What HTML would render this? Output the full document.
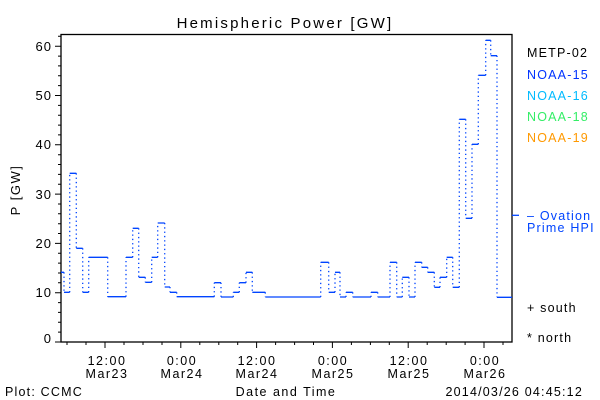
<!DOCTYPE html>
<html><head><meta charset="utf-8"><style>
html,body{margin:0;padding:0;background:#fff;}
svg{display:block;font-family:"Liberation Sans",sans-serif;}
</style></head><body>
<svg width="600" height="400" viewBox="0 0 600 400" xmlns="http://www.w3.org/2000/svg">
<rect width="600" height="400" fill="#fff"/>
<text x="285" y="28" font-size="15" text-anchor="middle" fill="#000" letter-spacing="2.2">Hemispheric Power [GW]</text>
<rect x="61" y="34.5" width="451" height="307.5" fill="none" stroke="#000" stroke-width="1.3"/>
<g stroke="#000" stroke-width="1">
<path d="M55 342H61M55 292.7H61M55 243.4H61M55 194.1H61M55 144.8H61M55 95.5H61M55 46.2H61"/>
<path d="M58 332.1H61M58 322.3H61M58 312.4H61M58 302.6H61M58 282.8H61M58 273H61M58 263.1H61M58 253.3H61M58 233.5H61M58 223.7H61M58 213.8H61M58 204H61M58 184.2H61M58 174.4H61M58 164.5H61M58 154.7H61M58 134.9H61M58 125.1H61M58 115.2H61M58 105.4H61M58 85.6H61M58 75.8H61M58 65.9H61M58 56.1H61M58 36.3H61"/>
<path d="M105 342V348M180.8 342V348M256.6 342V348M332.4 342V348M408.2 342V348M484 342V348"/>
<path d="M67 342V345M86 342V345M124 342V345M143 342V345M162 342V345M199.8 342V345M218.8 342V345M237.7 342V345M275.6 342V345M294.6 342V345M313.5 342V345M351.4 342V345M370.4 342V345M389.3 342V345M427.2 342V345M446.2 342V345M465.1 342V345M503 342V345"/>
</g>
<g font-size="13" fill="#000" text-anchor="end" letter-spacing="1">
<text x="52" y="343">0</text><text x="52" y="297">10</text><text x="52" y="248">20</text><text x="52" y="199">30</text><text x="52" y="149">40</text><text x="52" y="100">50</text><text x="52" y="51">60</text>
</g>
<text transform="translate(20,190) rotate(-90)" font-size="13" text-anchor="middle" letter-spacing="1.5">P [GW]</text>
<g font-size="12.5" text-anchor="middle" fill="#000" letter-spacing="1.5">
<text x="107" y="365">12:00</text><text x="107" y="378">Mar23</text>
<text x="182" y="365">0:00</text><text x="182" y="378">Mar24</text>
<text x="257" y="365">12:00</text><text x="257" y="378">Mar24</text>
<text x="333" y="365">0:00</text><text x="333" y="378">Mar25</text>
<text x="409" y="365">12:00</text><text x="409" y="378">Mar25</text>
<text x="485" y="365">0:00</text><text x="485" y="378">Mar26</text>
<text x="286" y="396">Date and Time</text>
</g>
<text x="5" y="396" font-size="12.5" letter-spacing="1.2">Plot: CCMC</text>
<text x="583" y="396" font-size="12.5" text-anchor="end" letter-spacing="1.2">2014/03/26 04:45:12</text>
<g font-size="12.5" letter-spacing="1.2">
<text x="527" y="57" fill="#000">METP-02</text>
<text x="527" y="79" fill="#0033ff">NOAA-15</text>
<text x="527" y="100" fill="#00bbff">NOAA-16</text>
<text x="527" y="121" fill="#33ee66">NOAA-18</text>
<text x="527" y="142" fill="#ff9900">NOAA-19</text>
<text x="527" y="220" fill="#0044ff">– Ovation</text>
<text x="527" y="232" fill="#0044ff">Prime HPI</text>
<text x="527" y="312" fill="#000">+ south</text>
<text x="527" y="342" fill="#000">* north</text>
</g>
<path d="M512 215.3H519" stroke="#0044ff" stroke-width="1.3"/>
<g fill="none" stroke="#0044ff" stroke-width="1.3">
<path d="M61 272.3H64M64 292.3H69.7M69.7 173.3H76.3M76.3 248.3H82.7M82.7 292.3H88.7M88.7 257.3H107.7M107.7 296.7H126M126 257.3H132.7M132.7 228.3H138.7M138.7 277.3H145.3M145.3 282.3H151.7M151.7 257.3H157.7M157.7 223H164.7M164.7 287H170M170 292.3H176.7M176.7 296.7H214.3M214.3 282.7H221M221 297H233.3M233.3 292.3H239.3M239.3 282.7H246M246 272.3H252.3M252.3 292.3H265.3M265.3 297H320.7M320.7 262.3H328.7M328.7 292.3H335M335 272.3H340M340 297H346M346 292.3H352.7M352.7 297H371M371 292.3H377.7M377.7 297H390M390 262.3H396.7M396.7 297H402.3M402.3 277.3H409M409 297H415M415 262.3H421.7M421.7 267.3H427.7M427.7 272.3H434.3M434.3 287.3H440M440 277.3H446.7M446.7 257.3H452.7M452.7 287.3H459.3M459.3 119.3H465.7M465.7 218.3H472M472 144.3H478.3M478.3 75.3H485.7M485.7 40.3H490.7M490.7 55.7H497M497 297.3H512"/>
</g>
<g fill="none" stroke="#0044ff" stroke-width="1.3" stroke-dasharray="1.3,3">
<path d="M64 272.3V292.3M69.7 292.3V173.3M76.3 173.3V248.3M82.7 248.3V292.3M88.7 292.3V257.3M107.7 257.3V296.7M126 296.7V257.3M132.7 257.3V228.3M138.7 228.3V277.3M145.3 277.3V282.3M151.7 282.3V257.3M157.7 257.3V223M164.7 223V287M170 287V292.3M176.7 292.3V296.7M214.3 296.7V282.7M221 282.7V297M233.3 297V292.3M239.3 292.3V282.7M246 282.7V272.3M252.3 272.3V292.3M265.3 292.3V297M320.7 297V262.3M328.7 262.3V292.3M335 292.3V272.3M340 272.3V297M346 297V292.3M352.7 292.3V297M371 297V292.3M377.7 292.3V297M390 297V262.3M396.7 262.3V297M402.3 297V277.3M409 277.3V297M415 297V262.3M421.7 262.3V267.3M427.7 267.3V272.3M434.3 272.3V287.3M440 287.3V277.3M446.7 277.3V257.3M452.7 257.3V287.3M459.3 287.3V119.3M465.7 119.3V218.3M472 218.3V144.3M478.3 144.3V75.3M485.7 75.3V40.3M490.7 40.3V55.7M497 55.7V297.3"/>
</g>
</svg>
</body></html>
